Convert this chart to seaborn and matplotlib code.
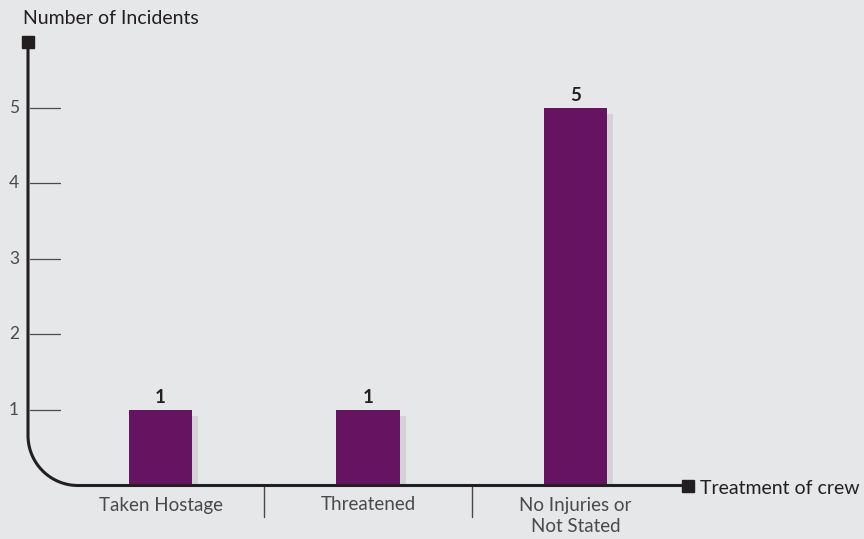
import numpy as np
import matplotlib
matplotlib.use("Agg")
import matplotlib.pyplot as plt
import matplotlib.transforms as mtransforms
import seaborn as sns

categories = ["Taken Hostage", "Threatened", "No Injuries or\nNot Stated"]
incidents = [1, 1, 5]
y_ticks = [1, 2, 3, 4, 5]

BG = "#e6e7e8"
BAR = "#661461"
SHADOW = "#d2d3d5"
INK = "#231f20"
GREY = "#4a4a4a"

sns.set_theme(style="white")
plt.rcParams["font.family"] = ["Lato", "DejaVu Sans"]

fig = plt.figure(figsize=(8.64, 5.39), dpi=100, facecolor=BG)
ax = fig.add_axes([28 / 864, 53.5 / 539, 660 / 864, 443.5 / 539])
ax.set_facecolor(BG)

# drop shadow, shifted a few pixels right and down
sns.barplot(x=categories, y=incidents, color=SHADOW, width=0.305, ax=ax,
            saturation=1, zorder=1)
shift = mtransforms.ScaledTranslation(6 / 100, -6 / 100, fig.dpi_scale_trans)
n_shadow = len(ax.patches)
for p in ax.patches:
    p.set_transform(ax.transData + shift)
    p.set_edgecolor("none")

sns.barplot(x=categories, y=incidents, color=BAR, width=0.305, ax=ax,
            saturation=1, zorder=2)
for p in ax.patches[n_shadow:]:
    p.set_edgecolor("none")

xmin, xmax = -0.639, 2.542
ymin, ymax = 0.0, 5.874
ax.set_xlim(xmin, xmax)
ax.set_ylim(ymin, ymax)

for s in ax.spines.values():
    s.set_visible(False)
ax.set_xticks([])
ax.set_yticks([])
ax.set_xlabel("")
ax.set_ylabel("")

# axis line with rounded corner, drawn in pixel-scaled coordinates
px_x = (xmax - xmin) / 660.0
px_y = (ymax - ymin) / 443.5
r = 50
theta = np.linspace(np.pi, 1.5 * np.pi, 60)
arc_x = xmin + (r + r * np.cos(theta)) * px_x
arc_y = ymin + (r + r * np.sin(theta)) * px_y
path_x = np.concatenate([[xmin], arc_x, [xmax]])
path_y = np.concatenate([[ymax], arc_y, [ymin]])
ax.plot(path_x, path_y, color=INK, lw=2.2, clip_on=False, zorder=5,
        solid_capstyle="butt")
ax.plot([xmin], [ymax], marker="s", ms=8.5, color=INK, clip_on=False, zorder=6)
ax.plot([xmax], [ymin], marker="s", ms=8.5, color=INK, clip_on=False, zorder=6)

# y ticks and labels
for t in y_ticks:
    ax.plot([xmin + 2 * px_x, xmin + 32 * px_x], [t, t], color=GREY, lw=0.9,
            clip_on=False, zorder=4)
    ax.text(xmin - 14 * px_x, t, str(t), ha="center", va="center",
            fontsize=12.5, color=GREY)

# category labels and separators
for i, c in enumerate(categories):
    ax.text(i, ymin - 11 * px_y, c, ha="center", va="top", fontsize=13.5,
            color=GREY, linespacing=1.3)
for i in range(len(categories) - 1):
    xs = i + 0.5
    ax.plot([xs, xs], [ymin, ymin - 31 * px_y], color=GREY, lw=1.0,
            clip_on=False, zorder=4)

# value labels
for i, v in enumerate(incidents):
    ax.text(i, v + 4 * px_y, str(v), ha="center", va="bottom", fontsize=13.5,
            color=INK, fontweight="bold")

fig.text(23 / 864, 1 - 19 / 539, "Number of Incidents", ha="left", va="center",
         fontsize=14, color=INK)
fig.text(700 / 864, 1 - 488 / 539, "Treatment of crew", ha="left", va="center",
         fontsize=14, color=INK)

fig.savefig("out.png", dpi=100, facecolor=BG)
